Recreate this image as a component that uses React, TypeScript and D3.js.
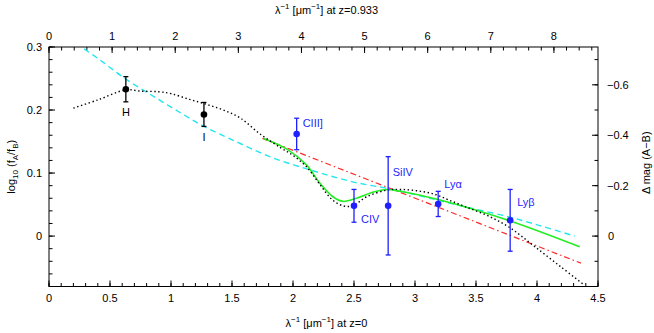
import React from 'react';
import * as d3 from 'd3';

// photometric bands (black)
const bandNames = ['H', 'I'];
const bandX = [0.63, 1.27];
const bandY = [0.233, 0.193];
const bandErr = [0.02, 0.019];

// emission lines (blue)
const lineNames = ['CIII]', 'CIV', 'SiIV', 'Lyα', 'Lyβ'];
const lineX = [2.03, 2.5, 2.78, 3.19, 3.78];
const lineY = [0.162, 0.048, 0.048, 0.051, 0.025];
const lineErr = [0.025, 0.026, 0.078, 0.02, 0.049];

// extinction curve (black dotted)
const dotX = [0.2, 0.4, 0.63, 0.75, 0.9, 1.0, 1.15, 1.29, 1.43, 1.57, 1.73, 1.9, 2.0, 2.11, 2.22, 2.32, 2.41, 2.49, 2.6, 2.77, 2.88, 3.01, 3.15, 3.28, 3.42, 3.6, 3.78, 3.97, 4.19, 4.39];
const dotY = [0.203, 0.216, 0.232, 0.23, 0.229, 0.226, 0.217, 0.209, 0.2, 0.187, 0.162, 0.14, 0.128, 0.11, 0.082, 0.058, 0.048, 0.048, 0.062, 0.073, 0.074, 0.072, 0.067, 0.057, 0.046, 0.032, 0.013, -0.015, -0.048, -0.078];

// cyan dashed fit
const cyanX = [0.22, 0.4, 0.63, 0.88, 1.1, 1.27, 1.51, 1.81, 2.14, 2.49, 2.82, 3.1, 3.42, 3.78, 4.05, 4.31];
const cyanY = [0.306, 0.282, 0.249, 0.219, 0.193, 0.174, 0.152, 0.126, 0.105, 0.086, 0.074, 0.061, 0.046, 0.03, 0.015, 0.0];

// red dash-dot fit
const redX = [1.75, 4.36];
const redY = [0.155, -0.043];

// green solid fit
const greenX = [1.76, 1.95, 2.11, 2.22, 2.33, 2.41, 2.52, 2.66, 2.77, 2.88, 3.19, 3.78, 4.35];
const greenY = [0.155, 0.138, 0.113, 0.084, 0.062, 0.055, 0.06, 0.07, 0.074, 0.071, 0.058, 0.024, -0.017];

// tick labels
const bottomTicks = [0, 0.5, 1, 1.5, 2, 2.5, 3, 3.5, 4, 4.5];
const topTicks = [0, 1, 2, 3, 4, 5, 6, 7, 8];
const leftTicks = [0, 0.1, 0.2, 0.3];
const rightTicks = [0, -0.2, -0.4, -0.6];

const redshift = 0.933;

const W = 654;
const H = 333;
const L = 49, R = 598, T = 47, B = 286.5;
const font = '"Liberation Sans", Arial, Helvetica, sans-serif';
const blue = '#1f1fff';

// label offsets relative to point (px)
const bandLabelOff = [[0, 26.5], [0, 27]];
const lineLabelOff = [[6, -6.5], [7, 17.5], [4.5, -30], [6, -15.5], [7, -14]];

export default function App() {
  const x = d3.scaleLinear().domain([0, 4.5]).range([L, R]);
  const xTop = d3.scaleLinear().domain([0, 4.5 * (1 + redshift)]).range([L, R]);
  const y = d3.scaleLinear().domain([-0.08, 0.3]).range([B, T]);
  const yMag = d3.scaleLinear().domain([-2.5 * -0.08, -2.5 * 0.3]).range([B, T]);

  const mk = (xs: number[], ys: number[], curve: any) =>
    d3.line<number>().x((_, i) => x(xs[i])).y((_, i) => y(ys[i])).curve(curve)(xs) || '';

  const dotPath = mk(dotX, dotY, d3.curveCatmullRom);
  const cyanPath = mk(cyanX, cyanY, d3.curveCatmullRom);
  const redPath = mk(redX, redY, d3.curveLinear);
  const greenPath = mk(greenX, greenY, d3.curveCatmullRom);

  const bottomMinor = d3.range(0, 4.5001, 0.1);
  const topMinor = d3.range(0, 4.5 * (1 + redshift), 0.2);
  const leftMinor = d3.range(-0.08, 0.3001, 0.02);
  const rightMinor = d3.range(-0.7, 0.2001, 0.1);

  const major = 6, minor = 3.5;
  const fs = 11;

  return (
    <svg width={W} height={H} style={{ position: 'absolute', left: 0, top: 0, background: '#fff' }}
      fontFamily={font} fontSize={fs}>
      <defs>
        <clipPath id="plotClip">
          <rect x={L} y={T} width={R - L} height={B - T} />
        </clipPath>
      </defs>

      {/* ticks */}
      <g stroke="#000" strokeWidth={1}>
        {bottomMinor.map((v, i) => (
          <line key={'bm' + i} x1={x(v)} x2={x(v)} y1={B} y2={B - minor} />
        ))}
        {bottomTicks.map((v, i) => (
          <line key={'bM' + i} x1={x(v)} x2={x(v)} y1={B} y2={B - major} />
        ))}
        {topMinor.map((v, i) => (
          <line key={'tm' + i} x1={xTop(v)} x2={xTop(v)} y1={T} y2={T + minor} />
        ))}
        {topTicks.map((v, i) => (
          <line key={'tM' + i} x1={xTop(v)} x2={xTop(v)} y1={T} y2={T + major} />
        ))}
        {leftMinor.map((v, i) => (
          <line key={'lm' + i} x1={L} x2={L + minor} y1={y(v)} y2={y(v)} />
        ))}
        {leftTicks.map((v, i) => (
          <line key={'lM' + i} x1={L} x2={L + major} y1={y(v)} y2={y(v)} />
        ))}
        {rightMinor.map((v, i) => (
          <line key={'rm' + i} x1={R} x2={R - minor} y1={yMag(v)} y2={yMag(v)} />
        ))}
        {rightTicks.map((v, i) => (
          <line key={'rM' + i} x1={R} x2={R - major} y1={yMag(v)} y2={yMag(v)} />
        ))}
      </g>

      {/* tick labels */}
      <g fill="#000">
        {bottomTicks.map((v, i) => (
          <text key={'bl' + i} x={x(v)} y={B + 15} textAnchor="middle">{String(v)}</text>
        ))}
        {topTicks.map((v, i) => (
          <text key={'tl' + i} x={xTop(v)} y={T - 7} textAnchor="middle">{String(v)}</text>
        ))}
        {leftTicks.map((v, i) => (
          <text key={'ll' + i} x={L - 7} y={y(v) + 4} textAnchor="end">{String(v)}</text>
        ))}
        {rightTicks.map((v, i) => (
          <text key={'rl' + i} x={v === 0 ? R + 10 : R + 9} y={yMag(v) + 4} textAnchor="start">
            {v === 0 ? '0' : '\u2212' + String(Math.abs(v))}
          </text>
        ))}
      </g>

      {/* axis titles */}
      <text x={(L + R) / 2 + 3} y={14} textAnchor="middle">
        λ<tspan dy={-5} fontSize={8}>−1</tspan><tspan dy={5}> [μm</tspan><tspan dy={-5} fontSize={8}>−1</tspan><tspan dy={5}>] at z=0.933</tspan>
      </text>
      <text x={(L + R) / 2 + 3} y={327} textAnchor="middle">
        λ<tspan dy={-5} fontSize={8}>−1</tspan><tspan dy={5}> [μm</tspan><tspan dy={-5} fontSize={8}>−1</tspan><tspan dy={5}>] at z=0</tspan>
      </text>
      <text transform={`translate(15,${(T + B) / 2}) rotate(-90)`} textAnchor="middle">
        log<tspan dy={3} fontSize={8}>10</tspan><tspan dy={-3}> (f</tspan><tspan dy={3} fontSize={8}>A</tspan><tspan dy={-3}>/f</tspan><tspan dy={3} fontSize={8}>B</tspan><tspan dy={-3}>)</tspan>
      </text>
      <text transform={`translate(650,${(T + B) / 2 - 4}) rotate(-90)`} textAnchor="middle">
        Δ mag (A−B)
      </text>

      {/* curves */}
      <g clipPath="url(#plotClip)" fill="none">
        <path d={cyanPath} stroke="#22e6ee" strokeWidth={1.4} strokeDasharray="6,4" />
        <path d={redPath} stroke="#ff2a2a" strokeWidth={1.2} strokeDasharray="6,3,1.5,3" />
        <path d={greenPath} stroke="#22ee22" strokeWidth={1.6} />
        <path d={dotPath} stroke="#000" strokeWidth={1.4} strokeDasharray="1.4,2.6" />
      </g>

      {/* band points */}
      {bandX.map((bx, i) => (
        <g key={'b' + i} stroke="#000" strokeWidth={1.3}>
          <line x1={x(bx)} x2={x(bx)} y1={y(bandY[i] - bandErr[i])} y2={y(bandY[i] + bandErr[i])} />
          <line x1={x(bx) - 2.5} x2={x(bx) + 2.5} y1={y(bandY[i] + bandErr[i])} y2={y(bandY[i] + bandErr[i])} />
          <line x1={x(bx) - 2.5} x2={x(bx) + 2.5} y1={y(bandY[i] - bandErr[i])} y2={y(bandY[i] - bandErr[i])} />
          <circle cx={x(bx)} cy={y(bandY[i])} r={3.3} fill="#000" stroke="none" />
          <text x={x(bx) + bandLabelOff[i][0]} y={y(bandY[i]) + bandLabelOff[i][1]} textAnchor="middle" stroke="none" fill="#000">
            {bandNames[i]}
          </text>
        </g>
      ))}

      {/* emission line points */}
      {lineX.map((lx, i) => (
        <g key={'l' + i} stroke={blue} strokeWidth={1.3}>
          <line x1={x(lx)} x2={x(lx)} y1={y(lineY[i] - lineErr[i])} y2={y(lineY[i] + lineErr[i])} />
          <line x1={x(lx) - 2.5} x2={x(lx) + 2.5} y1={y(lineY[i] + lineErr[i])} y2={y(lineY[i] + lineErr[i])} />
          <line x1={x(lx) - 2.5} x2={x(lx) + 2.5} y1={y(lineY[i] - lineErr[i])} y2={y(lineY[i] - lineErr[i])} />
          <circle cx={x(lx)} cy={y(lineY[i])} r={3.3} fill={blue} stroke="none" />
          <text x={x(lx) + lineLabelOff[i][0]} y={y(lineY[i]) + lineLabelOff[i][1]} stroke="none" fill={blue}>
            {lineNames[i]}
          </text>
        </g>
      ))}

      {/* frame */}
      <rect x={L} y={T} width={R - L} height={B - T} fill="none" stroke="#000" strokeWidth={1} />
    </svg>
  );
}
